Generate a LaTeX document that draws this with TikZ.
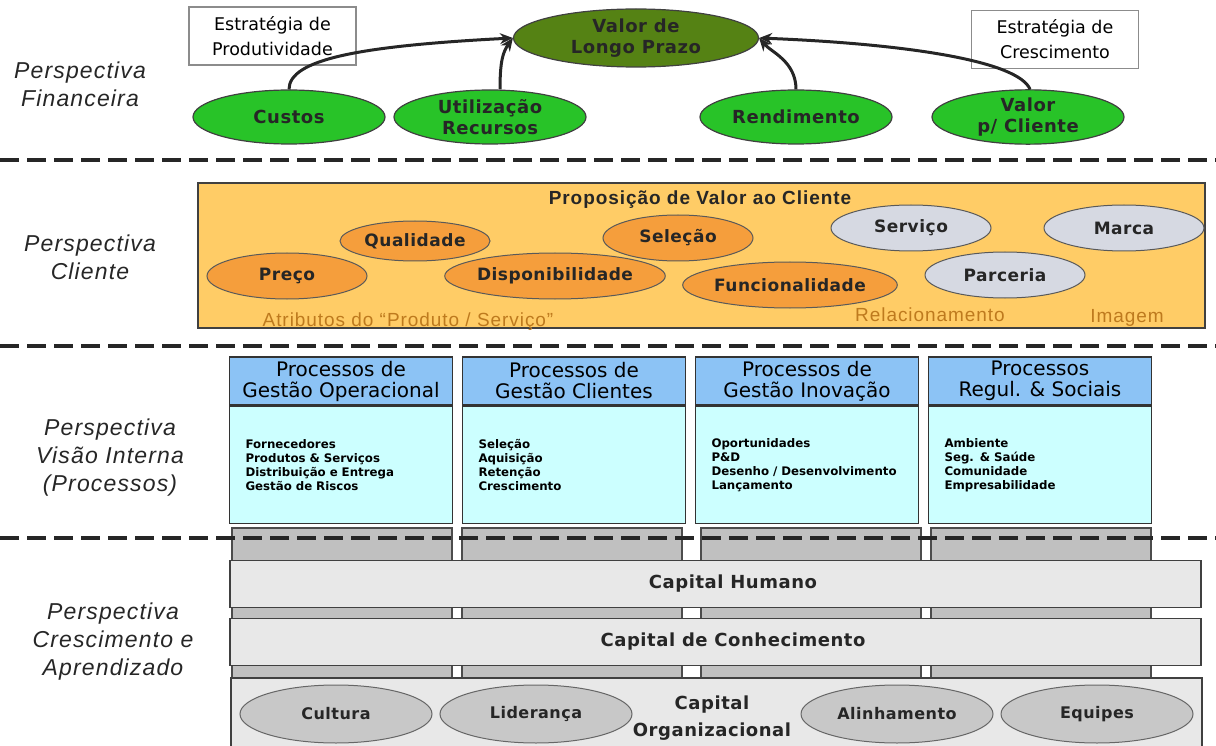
\documentclass[tikz,border=0pt]{standalone}
\usepackage{fontspec}
\setmainfont{Liberation Sans}
\newfontfamily\rotulofonte[LetterSpace=5]{Liberation Sans}
\newfontfamily\elipsefonte[LetterSpace=3]{DejaVu Sans}
\newfontfamily\processofonte{DejaVu Sans}
\usetikzlibrary{positioning,shapes.geometric,arrows.meta}

\definecolor{verdeclaro}{RGB}{40,195,40}
\definecolor{verdeescuro}{RGB}{85,130,20}
\definecolor{laranjafundo}{RGB}{255,204,102}
\definecolor{laranja}{RGB}{245,158,60}
\definecolor{cinzaazul}{RGB}{214,217,226}
\definecolor{marrom}{RGB}{190,122,30}
\definecolor{azulcab}{RGB}{140,195,245}
\definecolor{ciano}{RGB}{204,255,255}
\definecolor{cinzapilar}{RGB}{192,192,192}
\definecolor{cinzabarra}{RGB}{232,232,232}
\definecolor{cinzaorg}{RGB}{200,200,200}

\begin{document}
\begin{tikzpicture}[
		x=1pt, y=1pt,
		rotulo/.style={
			align=center,
			text=black!85,
			font=\rotulofonte\itshape\fontsize{23}{28}\selectfont
		},
		estrategia/.style={
			draw=black!45,
			line width=1.2pt,
			fill=white,
			align=center,
			minimum width=167pt,
			minimum height=58pt,
			inner sep=0pt,
			font=\processofonte\fontsize{17.5}{25}\selectfont
		},
		financa/.style={
			ellipse,
			draw=black!75,
			line width=1.2pt,
			fill=verdeclaro,
			minimum width=192pt,
			minimum height=54pt,
			inner sep=0pt,
			align=center,
			text=black!85,
			font=\elipsefonte\bfseries\fontsize{18}{21}\selectfont
		},
		atributo/.style={
			ellipse,
			draw=black!65,
			line width=1pt,
			fill=laranja,
			minimum width=160pt,
			minimum height=46pt,
			inner sep=0pt,
			text=black!85,
			font=\elipsefonte\bfseries\fontsize{17}{20}\selectfont
		},
		relacao/.style={atributo, fill=cinzaazul},
		legenda/.style={
			text=marrom,
			font=\rotulofonte\fontsize{19}{22}\selectfont
		},
		cabecalho/.style={
			draw=black!80,
			line width=1.5pt,
			fill=azulcab,
			minimum width=223pt,
			minimum height=48pt,
			inner sep=0pt,
			align=center,
			font=\processofonte\fontsize{20}{21}\selectfont
		},
		corpo/.style={
			draw=black!80,
			line width=1.5pt,
			fill=ciano,
			text width=191pt,
			inner xsep=16pt,
			inner ysep=0pt,
			minimum height=117pt,
			align=left,
			font=\processofonte\bfseries\fontsize{11.8}{14}\selectfont
		},
		pilar/.style={draw=black!70, line width=1.2pt, fill=cinzapilar},
		barra/.style={
			draw=black!75,
			line width=1.5pt,
			fill=cinzabarra,
			minimum width=971pt,
			minimum height=47pt,
			inner sep=0pt
		},
		barratexto/.style={
			text=black!85,
			font=\elipsefonte\bfseries\fontsize{18}{27}\selectfont
		},
		organizacao/.style={
			ellipse,
			draw=black!60,
			line width=1pt,
			fill=cinzaorg,
			minimum width=192pt,
			minimum height=58pt,
			inner sep=0pt,
			text=black!85,
			font=\elipsefonte\bfseries\fontsize{16}{19}\selectfont
		},
		separador/.style={draw=black!85, line width=4pt, dash pattern=on 19pt off 8pt},
		seta/.style={-{Stealth[length=13pt,width=11pt]}, line width=3pt, black!85}
		]
		
		\useasboundingbox (0,0) rectangle (1216,-746);
		
		%Perspectivas
		\node[rotulo] (financeira) at (80,-84) {Perspectiva\\Financeira};
		\node[rotulo] (clientes) at (90,-257) {Perspectiva\\Cliente};
		\node[rotulo] (interna) at (110,-458) {Perspectiva\\Visão Interna\\(Processos)};
		\node[rotulo] (aprendizado) at (113,-642) {Perspectiva\\Crescimento e\\Aprendizado};
		
		%Financeira
		\node[estrategia] (produtividade) at (272.5,-36) {Estratégia de\\Produtividade};
		\node[estrategia] (crescimento) at (1055,-39.5) {Estratégia de\\Crescimento};
		
		\node[financa, fill=verdeescuro, minimum width=245pt, minimum height=58pt] (valor) at (636,-38) {Valor de\\Longo Prazo};
		\node[financa] (custos) at (289,-117) {Custos};
		\node[financa] (utilizacao) at (490,-117) {Utilização\\Recursos};
		\node[financa] (rendimento) at (796,-117) {Rendimento};
		\node[financa] (valorcliente) at (1028,-117) {Valor\\p/ Cliente};
		
		\draw[seta] (custos.north) .. controls +(0,30) and +(-154,-8) .. (valor.west);
		\draw[seta] ([xshift=10pt]utilizacao.north) .. controls +(0,28) and +(-10,-14) .. (valor.west);
		\draw[seta] (rendimento.north) .. controls +(0,28) and +(12,-14) .. (valor.east);
		\draw[seta] ([xshift=2pt]valorcliente.north) .. controls +(-12,28) and +(150,-6) .. (valor.east);
		
		\draw[separador] (0,-160) -- (1216,-160);
		
		%Cliente
		\node[draw=black!75, line width=1.8pt, fill=laranjafundo, minimum width=1007pt, minimum height=145pt, inner sep=0pt] (proposta) at (701.5,-255.5) {};
		\node[text=black!85, font=\rotulofonte\bfseries\fontsize{19}{22}\selectfont] (proposicao) at (700,-200) {Proposição de Valor ao Cliente};
		
		\node[atributo, minimum width=150pt, minimum height=40pt] (qualidade) at (415,-241) {Qualidade};
		\node[atributo] (preco) at (287,-276) {Preço};
		\node[atributo, minimum width=170pt] (disponibilidade) at (555,-276) {Disponibilidade};
		\node[atributo, minimum width=150pt] (selecao) at (678,-238) {Seleção};
		\node[atributo] (funcionalidade) at (790,-285) {Funcionalidade};
		\node[relacao] (servico) at (911,-228) {Serviço};
		\node[relacao] (marca) at (1124,-228) {Marca};
		\node[relacao] (parceria) at (1005,-275) {Parceria};
		
		\node[legenda] (atributos) at (408,-322) {Atributos do “Produto / Serviço”};
		\node[legenda] (relacionamento) at (930,-315) {Relacionamento};
		\node[legenda] (imagem) at (1127,-318) {Imagem};
		
		\draw[separador] (0,-346) -- (1216,-346);
		
		%Processos
		\node[cabecalho] (caboper) at (341,-381) {Processos de\\Gestão Operacional};
		\node[corpo, below=0pt of caboper] (corpooper) {Fornecedores\\Produtos \& Serviços\\Distribuição e Entrega\\Gestão de Riscos};
		\node[cabecalho] (cabclientes) at (574,-381) {Processos de\\Gestão Clientes};
		\node[corpo, below=0pt of cabclientes] (corpoclientes) {Seleção\\Aquisição\\Retenção\\Crescimento};
		\node[cabecalho] (cabinovacao) at (807,-381) {Processos de\\Gestão Inovação};
		\node[corpo, below=0pt of cabinovacao] (corpoinovacao) {Oportunidades\\P\&D\\Desenho / Desenvolvimento\\Lançamento};
		\node[cabecalho] (cabsociais) at (1040,-381) {Processos\\Regul. \& Sociais};
		\node[corpo, below=0pt of cabsociais] (corposociais) {Ambiente\\Seg. \& Saúde\\Comunidade\\Empresabilidade};
		
		%Pilares
		\draw[pilar] (232,-528) rectangle (452,-690);
		\draw[pilar] (462,-528) rectangle (682,-690);
		\draw[pilar] (701,-528) rectangle (921,-690);
		\draw[pilar] (931,-528) rectangle (1151,-690);
		
		\draw[separador] (0,-538) -- (1216,-538);
		
		%Capitais
		\node[barra, label={[barratexto, xshift=17.5pt]center:Capital Humano}] (humano) at (715.5,-584) {};
		\node[barra, label={[barratexto, xshift=17.5pt]center:Capital de Conhecimento}] (conhecimento) at (715.5,-642) {};
		\node[barra, minimum height=90pt, anchor=north west] (organizacional) at (230,-677) {};
		
		\node[organizacao] (cultura) at (336,-714) {Cultura};
		\node[organizacao] (lideranca) at (536,-714) {Liderança};
		\node[organizacao] (alinhamento) at (897,-714) {Alinhamento};
		\node[organizacao] (equipes) at (1097,-714) {Equipes};
		\node[barratexto, align=center] (capitalorg) at (712,-718) {Capital\\Organizacional};
		
	\end{tikzpicture}
\end{document}
